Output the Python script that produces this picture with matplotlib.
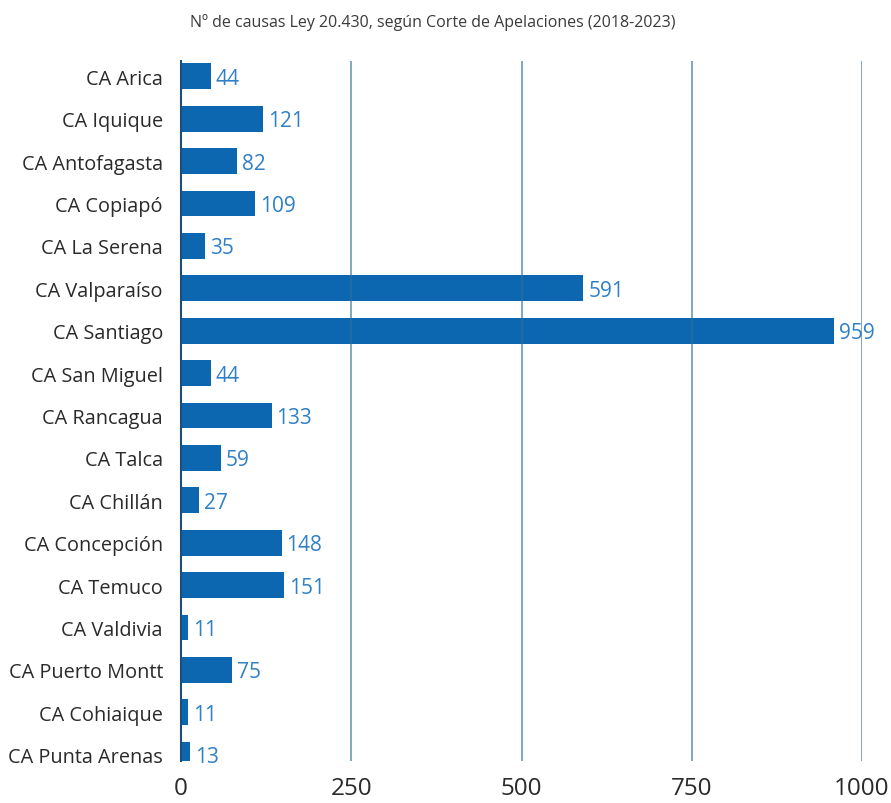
import matplotlib.pyplot as plt

plt.rcParams['font.family'] = ['Open Sans', 'DejaVu Sans']

cortes = ["CA Arica", "CA Iquique", "CA Antofagasta", "CA Copiapó", "CA La Serena",
          "CA Valparaíso", "CA Santiago", "CA San Miguel", "CA Rancagua", "CA Talca",
          "CA Chillán", "CA Concepción", "CA Temuco", "CA Valdivia", "CA Puerto Montt",
          "CA Cohiaique", "CA Punta Arenas"]
causas = [44, 121, 82, 109, 35, 591, 959, 44, 133, 59, 27, 148, 151, 11, 75, 11, 13]
ticks = [0, 250, 500, 750, 1000]

fig = plt.figure(figsize=(8.91, 8.04), dpi=100)
ax = fig.add_axes([181 / 891, 42 / 804, 681 / 891, 700 / 804])

pos = list(range(len(cortes)))
ax.barh(pos, causas, height=0.61, color="#0d67b0", zorder=2)
for y, v in zip(pos, causas):
    ax.text(v + 7, y + 0.05, str(v), va="center", ha="left", fontsize=15,
            color="#2f80c6", zorder=4)

# lineas de referencia por encima de las barras
ax.vlines(ticks[1:], -0.36, 16.15, color="#2f6f96", alpha=0.7, lw=1.2, zorder=3)

ax.set_xlim(0, 1000)
ax.set_ylim(16.15, -0.36)
ax.set_yticks(pos)
ax.set_yticklabels(cortes, fontsize=14.3, color="#2a2a2a")
ax.set_xticks(ticks)
ax.set_xticklabels([str(t) for t in ticks], fontsize=17.5, color="#2a2a2a")
ax.tick_params(axis="y", length=0, pad=13)
ax.tick_params(axis="x", length=0, pad=11)

for s in ["top", "right", "bottom"]:
    ax.spines[s].set_visible(False)
ax.spines["left"].set_color("#1c4f78")
ax.spines["left"].set_linewidth(1.5)
ax.spines["left"].set_zorder(5)

fig.text(433 / 891, 1 - 23 / 804, "Nº de causas Ley 20.430, según Corte de Apelaciones (2018-2023)",
         ha="center", va="center", fontsize=11.5, color="#3a3a3a")

fig.savefig("out.png", dpi=100)
